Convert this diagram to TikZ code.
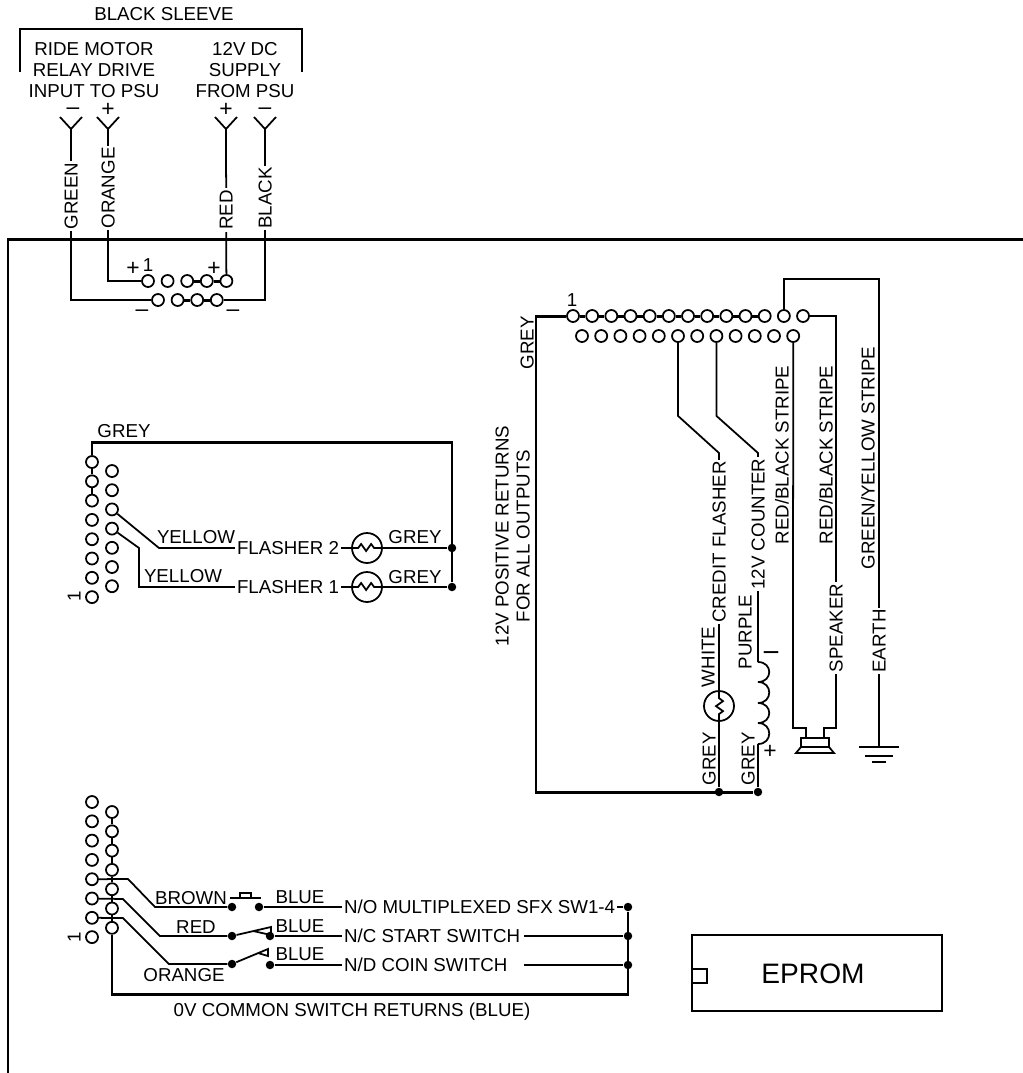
\documentclass[tikz,border=0pt]{standalone}
\usepackage{fontspec}
\setmainfont{Liberation Sans}
\usetikzlibrary{arrows.meta}

\tikzset{
    txt/.style={font=\fontsize{10.65}{12.2}\selectfont, inner sep=1pt},
    lab/.style={txt, text height=7.6pt, text depth=0pt},
    vtxt/.style={lab, rotate=90},
    vlab/.style={vtxt, fill=white},
    sgn/.style={font=\fontsize{13}{13}\selectfont, inner sep=0pt, text height=6pt, text depth=0pt},
    wire/.style={line width=1pt},
    bus/.style={line width=1.7pt},
    link/.style={line width=1.3pt},
    pinhole/.style={circle, draw, line width=1pt, fill=white, inner sep=0pt, minimum size=0.24cm},
    lampnode/.style={circle, draw, line width=1pt, inner sep=0pt, minimum size=0.6cm},
    jdot/.style={circle, fill=black, inner sep=0pt, minimum size=0.17cm},
}

\begin{document}
\begin{tikzpicture}[x=0.02cm, y=-0.02cm]
    \useasboundingbox (0, 0) rectangle (1023, 1073);

    % Frame of the board
    \draw[line width=1.7pt] (8, 1073) -- (8, 239) -- (1023, 239);

    % Black sleeve
    \draw[wire] (20, 72) -- (20, 29) -- (302, 29) -- (302, 72);
    \node[txt] (sleeve) at (164, 14) {BLACK SLEEVE};
    \node[txt, align=center] (ridetxt) at (94, 70) {RIDE MOTOR\\RELAY DRIVE\\INPUT TO PSU};
    \node[txt, align=center] (supplytxt) at (245, 70) {12V DC\\SUPPLY\\FROM PSU};
    \node[sgn] (s1) at (73, 109) {–};
    \node[sgn] (s2) at (108, 111) {+};
    \node[sgn] (s3) at (226, 111) {+};
    \node[sgn] (s4) at (265, 109) {–};

    % Y connectors
    \coordinate (jgreen) at (71, 129);
    \coordinate (jorange) at (108, 129);
    \coordinate (jred) at (226, 129);
    \coordinate (jblack) at (265, 129);
    \foreach \j in {jgreen, jorange, jred, jblack} {
        \draw[wire] (\j) -- ++(-11, -12) (\j) -- ++(11, -12);
    }

    % PSU connector
    \foreach \i in {1,...,5} {
        \node[pinhole] (t\i) at ({148 + (\i - 1) * 19.6}, 281) {};
    }
    \foreach \i in {1,...,4} {
        \node[pinhole] (b\i) at ({158 + (\i - 1) * 19.6}, 300) {};
    }
    \draw[bus] (t3) -- (t4) -- (t5);
    \draw[bus] (b2) -- (b3) -- (b4);
    \draw[wire] (jgreen) |- (b1);
    \draw[wire] (jorange) |- (t1);
    \draw[wire] (jred) -- (t5);
    \draw[wire] (jblack) |- (b4);
    \node[vlab] (lgreen) at (71, 196) {GREEN};
    \node[vlab] (lorange) at (108, 188) {ORANGE};
    \node[vlab] (lred) at (226, 210) {RED};
    \node[vlab] (lblack) at (265, 198) {BLACK};
    \node[sgn] (p1) at (133, 270) {+};
    \node[lab] (n1) at (148, 265) {1};
    \node[sgn] (p2) at (214, 270) {+};
    \node[sgn] (m1) at (142, 311) {–};
    \node[sgn] (m2) at (233, 311) {–};

    % Output connector
    \foreach \i in {1,...,13} {
        \node[pinhole] (ot\i) at ({573 + (\i - 1) * 19.17}, 316) {};
    }
    \foreach \i in {1,...,12} {
        \node[pinhole] (ob\i) at ({582 + (\i - 1) * 19.2}, 336) {};
    }
    \foreach \i [count=\k from 2] in {1,...,10} {
        \draw[bus] (ot\i) -- (ot\k);
    }
    \node[lab] (n2) at (572, 300) {1};

    % Lamp, counter, speaker, earth
    \node[lampnode] (lampw) at (719, 706) {};
    \coordinate (coilt) at (758, 662);
    \coordinate (coilb) at (758, 744);
    \node[jdot] (dotw) at (719, 792) {};
    \node[jdot] (dotc) at (758, 792) {};
    \coordinate (spka) at (806, 738);
    \coordinate (spkb) at (824, 738);
    \coordinate (gnd) at (879, 747);

    \draw[bus] (ot1) -- (536, 316) -- (536, 792) -- (dotc);
    \draw[wire] (ob6.south) -- ++(0, 73) -- (719, 453) -- (lampw);
    \draw[wire] (ob8.south) -- ++(0, 73) -- (758, 453) -- (coilt);
    \draw[wire] (lampw) -- (dotw);
    \draw[wire] (coilb) -- (dotc);
    \draw[wire] (lampw.north) -- ++(0, 8) -- ++(4, 3) -- ++(-7, 5) -- ++(7, 5) -- ++(-4, 3) -- (lampw.south);
    \draw[wire] (coilt) .. controls (773, 662) and (773, 682) .. (758, 682)
        .. controls (773, 682) and (773, 703) .. (758, 703)
        .. controls (773, 703) and (773, 723) .. (758, 723)
        .. controls (773, 723) and (773, 744) .. (coilb);
    \draw[wire] (ob12) -- (793, 728) -- (806, 728) -- (spka);
    \draw[wire] (ot13) -- (836, 316) -- (836, 728) -- (824, 728) -- (spkb);
    \draw[wire] (ot12) |- (879, 279) -- (gnd);
    \draw[wire] (801, 738) rectangle (829, 747);
    \draw[wire] (801, 747) -- (796, 753) -- (834, 753) -- (829, 747);
    \draw[wire] (gnd) ++(-20, 0) -- ++(40, 0);
    \draw[wire] (gnd) ++(-14, 9) -- ++(28, 0);
    \draw[wire] (gnd) ++(-7, 15) -- ++(14, 0);

    \node[vtxt] (lgrey1) at (527, 343) {GREY};
    \node[vtxt] (lret1) at (502, 536) {12V POSITIVE RETURNS};
    \node[vtxt] (lret2) at (523, 536) {FOR ALL OUTPUTS};
    \node[vlab] (lcredit) at (719, 542) {CREDIT FLASHER};
    \node[vlab] (lcount) at (758, 524) {12V COUNTER};
    \node[vtxt] (lwhite) at (708, 657) {WHITE};
    \node[vtxt] (lpurple) at (745, 632) {PURPLE};
    \node[vtxt] (lgrey2) at (709, 759) {GREY};
    \node[vtxt] (lgrey3) at (748, 759) {GREY};
    \node[vtxt] (lstripe1) at (782, 455) {RED/BLACK STRIPE};
    \node[vtxt] (lstripe2) at (826, 455) {RED/BLACK STRIPE};
    \node[vtxt] (lstripe3) at (868, 458) {GREEN/YELLOW STRIPE};
    \node[vlab] (lspeaker) at (836, 628) {SPEAKER};
    \node[vlab] (learth) at (879, 641) {EARTH};
    \node[lab, rotate=90, font=\fontsize{12}{12}\selectfont, text height=8.5pt] (cminus) at (771, 653) {I};
    \node[sgn] (cplus) at (770, 753) {+};

    % Flasher connector
    \foreach \i in {1,...,8} {
        \node[pinhole] (fl\i) at (92, {462 + (\i - 1) * 19.3}) {};
    }
    \foreach \i in {1,...,7} {
        \node[pinhole] (fr\i) at (112, {471 + (\i - 1) * 19.2}) {};
    }
    \node[lampnode] (lampa) at (367, 548) {};
    \node[lampnode] (lampb) at (367, 587) {};
    \node[jdot] (dota) at (452, 548) {};
    \node[jdot] (dotb) at (452, 587) {};
    \node[lab] (lfl2) at (288, 548) {FLASHER 2};
    \node[lab] (lfl1) at (288, 587) {FLASHER 1};
    \draw[link] (fl3) -- (fl2) -- (fl1);
    \draw[bus] (fl1) -- (92, 442) -- (452, 442) -- (dotb);
    \draw[wire] (fr3) -- (159, 548) -- (lfl2);
    \draw[wire] (fr4) -- (139, 548) -- (139, 587) -- (lfl1);
    \draw[wire] (lfl2) -- (lampa);
    \draw[wire] (lfl1) -- (lampb);
    \draw[wire] (lampa) -- (dota);
    \draw[wire] (lampb) -- (dotb);
    \foreach \l in {lampa, lampb} {
        \fill[white] (\l) circle (13);
        \draw[wire] (\l.west) -- ++(7, 0) -- ++(3, -4) -- ++(5, 7) -- ++(5, -7) -- ++(3, 4) -- (\l.east);
    }
    \node[lab] (lg1) at (124, 431) {GREY};
    \node[lab] (ly2) at (196, 537) {YELLOW};
    \node[lab] (ly1) at (183, 576) {YELLOW};
    \node[lab] (lg4) at (415, 537) {GREY};
    \node[lab] (lg5) at (415, 577) {GREY};
    \node[vtxt] (n3) at (74, 596) {1};

    % Switch connector
    \foreach \i in {1,...,8} {
        \node[pinhole] (sl\i) at (92, {802 + (\i - 1) * 19.3}) {};
    }
    \foreach \i in {1,...,7} {
        \node[pinhole] (sr\i) at (112, {812 + (\i - 1) * 19.3}) {};
    }
    \foreach \i [count=\k from 2] in {1,...,6} {
        \draw[link] (sr\i) -- (sr\k);
    }
    \node[jdot] (da1) at (232, 907) {};
    \node[jdot] (da2) at (232, 936) {};
    \node[jdot] (da3) at (232, 964) {};
    \node[jdot] (db1) at (259, 907) {};
    \node[jdot] (db2) at (270, 936) {};
    \node[jdot] (db3) at (270, 965) {};
    \node[jdot] (de1) at (628, 907) {};
    \node[jdot] (de2) at (628, 936) {};
    \node[jdot] (de3) at (628, 965) {};
    \coordinate (ew2) at (524, 936);
    \coordinate (ew3) at (524, 965);
    \node[lab, anchor=west] (lsw1) at (342, 907) {N/O MULTIPLEXED SFX SW1-4};
    \node[lab, anchor=west] (lsw2) at (342, 936) {N/C START SWITCH};
    \node[lab, anchor=west] (lsw3) at (342, 965) {N/D COIN SWITCH};
    \draw[bus] (sr7) -- (112, 994) -- (628, 994) -- (de1);
    \draw[wire] (sl5) -- (128, 879) -- (155, 907) -- (da1);
    \draw[wire] (sl6) -- (123, 899) -- (160, 936) -- (da2);
    \draw[wire] (sl7) -- (123, 918) -- (169, 964) -- (da3);
    \draw[wire] (db1) -- (lsw1.west);
    \draw[wire] (db2) -- (lsw2.west);
    \draw[wire] (db3) -- (lsw3.west);
    \draw[wire] (lsw1.east) -- (de1);
    \draw[wire] (ew2) -- (de2);
    \draw[wire] (ew3) -- (de3);
    % Push button
    \draw[wire] (230, 898) -- (261, 898);
    \draw[wire] (240, 898) -- (240, 893) -- (251, 893) -- (251, 898);
    % Blades
    \draw[wire] (da2) -- (271, 927) -- (271, 935) -- (253, 931);
    \draw[wire] (da3) -- (268, 949) -- (268, 956) -- (258, 953);
    \node[lab] (lbrown) at (191, 898) {BROWN};
    \node[lab] (lred2) at (196, 927) {RED};
    \node[lab] (lorange2) at (184, 975) {ORANGE};
    \node[lab] (lb1) at (300, 897) {BLUE};
    \node[lab] (lb2) at (300, 926) {BLUE};
    \node[lab] (lb3) at (300, 954) {BLUE};
    \node[vtxt] (n4) at (74, 937) {1};
    \node[lab] (lcommon) at (352, 1010) {0V COMMON SWITCH RETURNS (BLUE)};

    % EPROM
    \node[draw, line width=0.7pt, minimum width=5cm, minimum height=1.52cm] (eprom) at (817, 973) {};
    \node[font=\fontsize{16}{18}\selectfont] (epromtxt) at (813, 974) {EPROM};
    \draw[line width=0.7pt] (eprom.west |- 0, 969) -- (707, 969) -- (707, 983) -- (eprom.west |- 0, 983);
\end{tikzpicture}
\end{document}
